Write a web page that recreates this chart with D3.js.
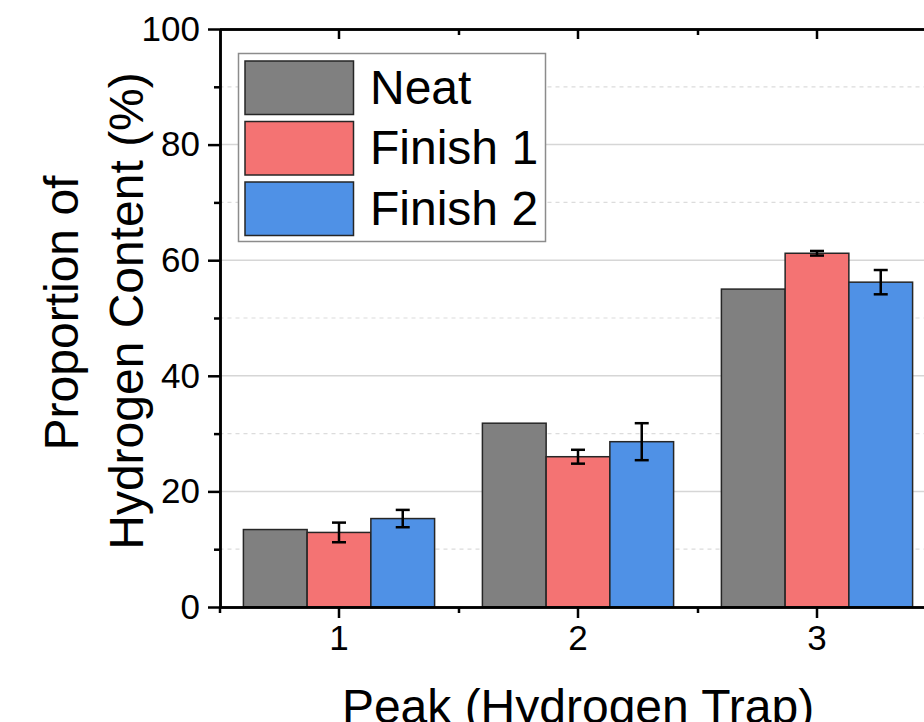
<!DOCTYPE html>
<html>
<head>
<meta charset="utf-8">
<script src="https://cdn.jsdelivr.net/npm/d3@7"></script>
<style>
  body { margin: 0; background: #fff; overflow: hidden; }
  svg { display: block; font-family: 'Liberation Sans', Arial, sans-serif; }
</style>
</head>
<body>
<div id="chart"></div>
<script>
'use strict';
// data
var peaks = ['1', '2', '3'];
var seriesNames = ['Neat', 'Finish 1', 'Finish 2'];
var neatValues = [13.4, 31.8, 55.0];
var finish1Values = [12.9, 26.0, 61.2];
var finish2Values = [15.3, 28.6, 56.2];
var finish1Errors = [1.7, 1.2, 0.4];
var finish2Errors = [1.5, 3.2, 2.1];
var yTicks = [0, 20, 40, 60, 80, 100];
var yMinorTicks = [10, 30, 50, 70, 90];

var colors = ['#808080', '#f47373', '#4f91e6'];

var width = 924, height = 722;
// plot frame runs past the right edge of the window, like the reference
var plot = {left: 219.5, right: 936.5, top: 29, bottom: 607};

var svg = d3.select('#chart').append('svg')
    .attr('width', width)
    .attr('height', height);

// scales
var x = d3.scaleBand()
    .domain(peaks)
    .range([plot.left, plot.right])
    .paddingInner(0.2)
    .paddingOuter(0.1);

var xSeries = d3.scaleBand()
    .domain(seriesNames)
    .range([0, x.bandwidth()]);

var xLin = d3.scaleLinear()
    .domain([0.5, 3.5])
    .range([plot.left, plot.right]);

var y = d3.scaleLinear()
    .domain([0, 100])
    .range([plot.bottom, plot.top]);

// grid lines
var grid = svg.append('g');
grid.selectAll('.major')
    .data(yTicks.filter(function(d) { return d > 0 && d < 100; }))
  .enter().append('line')
    .attr('x1', plot.left).attr('x2', plot.right)
    .attr('y1', function(d) { return y(d); })
    .attr('y2', function(d) { return y(d); })
    .attr('stroke', '#d6d6d6')
    .attr('stroke-width', 1.5);
grid.selectAll('.minor')
    .data(yMinorTicks)
  .enter().append('line')
    .attr('x1', plot.left).attr('x2', plot.right)
    .attr('y1', function(d) { return y(d); })
    .attr('y2', function(d) { return y(d); })
    .attr('stroke', '#dcdcdc')
    .attr('stroke-width', 1.2)
    .attr('stroke-dasharray', '4,4');

// build rows from the arrays
var series = [
  {name: seriesNames[0], values: neatValues, errors: null},
  {name: seriesNames[1], values: finish1Values, errors: finish1Errors},
  {name: seriesNames[2], values: finish2Values, errors: finish2Errors}
];
var rows = [];
series.forEach(function(s, si) {
  peaks.forEach(function(p, pi) {
    rows.push({peak: p, name: s.name, color: colors[si], value: s.values[pi],
               err: s.errors ? s.errors[pi] : null});
  });
});

// bars
svg.selectAll('.bar')
    .data(rows)
  .enter().append('rect')
    .attr('class', 'bar')
    .attr('x', function(d) { return x(d.peak) + xSeries(d.name); })
    .attr('width', xSeries.bandwidth())
    .attr('y', function(d) { return y(d.value); })
    .attr('height', function(d) { return y(0) - y(d.value); })
    .attr('fill', function(d) { return d.color; })
    .attr('stroke', '#262626')
    .attr('stroke-width', 1.5);

// error bars
var errRows = rows.filter(function(d) { return d.err !== null; });
var capW = 7;
var eb = svg.selectAll('.err')
    .data(errRows)
  .enter().append('g')
    .attr('class', 'err')
    .attr('stroke', '#000')
    .attr('stroke-width', 2.5);
eb.append('line')
    .attr('x1', function(d) { return x(d.peak) + xSeries(d.name) + xSeries.bandwidth() / 2; })
    .attr('x2', function(d) { return x(d.peak) + xSeries(d.name) + xSeries.bandwidth() / 2; })
    .attr('y1', function(d) { return y(d.value - d.err); })
    .attr('y2', function(d) { return y(d.value + d.err); });
[-1, 1].forEach(function(sign) {
  eb.append('line')
      .attr('x1', function(d) { return x(d.peak) + xSeries(d.name) + xSeries.bandwidth() / 2 - capW; })
      .attr('x2', function(d) { return x(d.peak) + xSeries(d.name) + xSeries.bandwidth() / 2 + capW; })
      .attr('y1', function(d) { return y(d.value + sign * d.err); })
      .attr('y2', function(d) { return y(d.value + sign * d.err); });
});

function styleAxis(g, fontSize) {
  g.select('.domain').attr('stroke-width', 2.5).attr('stroke', '#000');
  g.selectAll('.tick line').attr('stroke-width', 2.5).attr('stroke', '#000');
  g.selectAll('.tick text').attr('font-size', fontSize).attr('fill', '#000')
      .attr('font-family', "'Liberation Sans', Arial, sans-serif");
}

// bottom axis, minor ticks first
svg.append('g')
    .attr('transform', 'translate(0,' + plot.bottom + ')')
    .call(d3.axisBottom(xLin).tickValues([0.5, 1.5, 2.5, 3.5]).tickSize(6).tickSizeOuter(0).tickFormat(''))
    .call(function(g) { styleAxis(g, 0); });
svg.append('g')
    .attr('transform', 'translate(0,' + plot.bottom + ')')
    .call(d3.axisBottom(x).tickSize(11).tickSizeOuter(0).tickPadding(7))
    .call(function(g) { styleAxis(g, 35); });

// top axis with inward ticks
svg.append('g')
    .attr('transform', 'translate(0,' + plot.top + ')')
    .call(d3.axisTop(xLin).tickValues([1.5, 2.5]).tickSize(-6).tickSizeOuter(0).tickFormat(''))
    .call(function(g) { styleAxis(g, 0); });
svg.append('g')
    .attr('transform', 'translate(0,' + plot.top + ')')
    .call(d3.axisTop(x).tickSize(-10).tickSizeOuter(0).tickFormat(''))
    .call(function(g) { styleAxis(g, 0); });

// left axis
svg.append('g')
    .attr('transform', 'translate(' + (plot.left + 0.5) + ',0)')
    .call(d3.axisLeft(y).tickValues(yMinorTicks).tickSize(6).tickSizeOuter(0).tickFormat(''))
    .call(function(g) { styleAxis(g, 0); });
svg.append('g')
    .attr('transform', 'translate(' + (plot.left + 0.5) + ',0)')
    .call(d3.axisLeft(y).tickValues(yTicks).tickSize(12).tickSizeOuter(0).tickPadding(8))
    .call(function(g) { styleAxis(g, 35); });

// axis titles
svg.append('text')
    .attr('transform', 'translate(78,313) rotate(-90)')
    .attr('text-anchor', 'middle')
    .attr('font-size', 48)
    .text('Proportion of');
svg.append('text')
    .attr('transform', 'translate(143,311) rotate(-90)')
    .attr('text-anchor', 'middle')
    .attr('font-size', 48)
    .text('Hydrogen Content (%)');
svg.append('text')
    .attr('x', (plot.left + plot.right) / 2)
    .attr('y', 723)
    .attr('text-anchor', 'middle')
    .attr('font-size', 48)
    .text('Peak (Hydrogen Trap)');

// legend
var legend = svg.append('g');
legend.append('rect')
    .attr('x', 238.5).attr('y', 53.5)
    .attr('width', 307).attr('height', 188)
    .attr('fill', '#fff')
    .attr('stroke', '#8c8c8c')
    .attr('stroke-width', 1.5);
var item = legend.selectAll('.item')
    .data(series)
  .enter().append('g')
    .attr('transform', function(d, i) { return 'translate(0,' + (i * 60.5) + ')'; });
item.append('rect')
    .attr('x', 245).attr('y', 61)
    .attr('width', 108.5).attr('height', 53.5)
    .attr('fill', function(d, i) { return colors[i]; })
    .attr('stroke', '#262626')
    .attr('stroke-width', 1.5);
item.append('text')
    .attr('x', 370).attr('y', 103.5)
    .attr('font-size', 48)
    .text(function(d) { return d.name; });
</script>
</body>
</html>
